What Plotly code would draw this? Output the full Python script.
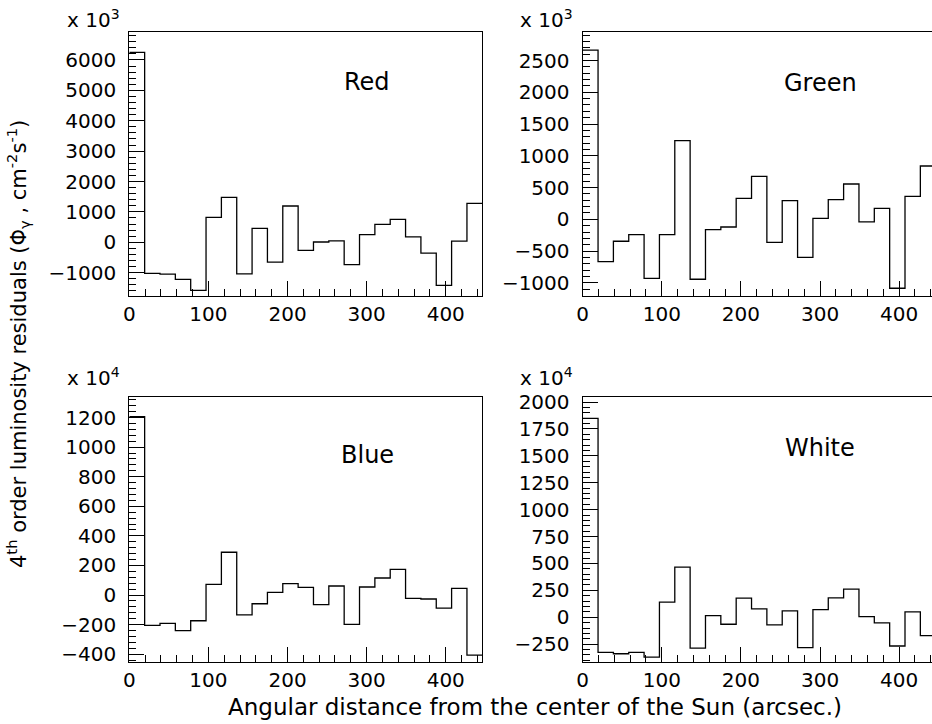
import plotly.graph_objects as go

# ---------------- data ----------------
N_BINS = 23
X_MAX = 446.2            # upper edge of the last bin (arcsec)

red = [6250, -1020, -1050, -1220, -1580, 820, 1480, -1040, 460, -650, 1195, -265,
       10, 45, -735, 250, 590, 755, 180, -355, -1415, 40, 1280]          # x 10^3
green = [2665, -665, -346, -241, -929, -241, 1238, -944, -163, -121, 330, 677,
         -362, 294, -598, 16, 310, 556, -42, 173, -1086, 362, 839]        # x 10^3
blue = [1206, -205, -192, -241, -174, 72, 289, -135, -59, 18, 77, 52,
        -65, 61, -198, 54, 115, 174, -23, -27, -89, 45, -406]             # x 10^4
white = [1848, -326, -339, -326, -370, 140, 466, -286, 16, -65, 177, 78,
         -71, 59, -283, 71, 180, 261, 6, -53, -267, 50, -171]             # x 10^4

panel_names = ["Red", "Green", "Blue", "White"]
panel_values = [red, green, blue, white]
panel_exponents = ["3", "3", "4", "4"]

x_title = "Angular distance from the center of the Sun (arcsec.)"
y_title = "4<sup>th</sup> order luminosity residuals (Φ<sub>γ</sub> , cm<sup>-2</sup>s<sup>-1</sup>)"

# ---------------- layout geometry (pixels) ----------------
W, H = 932, 724
FONT = "DejaVu Sans"

def fx(p):
    return p / W

def fy(p):
    return 1 - p / H

bin_w = X_MAX / N_BINS
edges = [i * bin_w for i in range(N_BINS + 1)]
px_per_unit = (482.3 - 129.3) / X_MAX

panels = [
    dict(x=(129.3, 482.3), y=(31.7, 295.7), yr=[-1757, 6930], dt=1000, mdt=200,
         lbl=(367, 82), exp=(65, 19)),
    dict(x=(582.7, 932.0), y=(31.7, 295.7), yr=[-1203, 2954], dt=500, mdt=100,
         lbl=(820, 83), exp=(518, 19)),
    dict(x=(129.3, 482.3), y=(396.7, 661.7), yr=[-451, 1341], dt=200, mdt=40,
         lbl=(367, 455), exp=(65, 377)),
    dict(x=(582.7, 932.0), y=(396.7, 661.7), yr=[-413, 2050], dt=250, mdt=50,
         lbl=(820, 448), exp=(518, 377)),
]

fig = go.Figure()
annotations = []
layout_axes = {}

for i, (p, vals, name, ex) in enumerate(zip(panels, panel_values, panel_names, panel_exponents)):
    n = "" if i == 0 else str(i + 1)
    xs = edges[:-1] + [edges[-1]]
    ys = list(vals) + [vals[-1]]
    fig.add_trace(go.Scatter(
        x=xs, y=ys, mode="lines", line=dict(shape="hv", color="black", width=1.3),
        xaxis="x" + n, yaxis="y" + n, showlegend=False, hoverinfo="skip"))

    xmax = (p["x"][1] - p["x"][0]) / px_per_unit
    is_right = i % 2 == 1
    layout_axes["xaxis" + n] = dict(
        domain=[fx(p["x"][0]), fx(p["x"][1])], anchor="y" + n, automargin=False,
        range=[0, xmax], showgrid=False, zeroline=False,
        showline=True, linecolor="black", linewidth=1.3, mirror=True,
        ticks="inside", ticklen=15, tickwidth=1.2, tickcolor="black",
        tick0=0, dtick=100,
        minor=dict(dtick=20, tick0=0, ticks="inside", ticklen=7, tickwidth=1.2,
                   tickcolor="black", showgrid=False),
        tickfont=dict(family=FONT, size=20, color="black"),
        ticklabelstandoff=0)
    layout_axes["yaxis" + n] = dict(
        domain=[fy(p["y"][1]), fy(p["y"][0])], anchor="x" + n, automargin=False,
        range=p["yr"], showgrid=False, zeroline=False,
        showline=True, linecolor="black", linewidth=1.3, mirror=not is_right,
        ticks="inside", ticklen=15, tickwidth=1.2, tickcolor="black",
        tick0=0, dtick=p["dt"],
        minor=dict(dtick=p["mdt"], tick0=0, ticks="inside", ticklen=7, tickwidth=1.2,
                   tickcolor="black", showgrid=False),
        tickfont=dict(family=FONT, size=20, color="black"),
        ticklabelstandoff=8)

    annotations.append(dict(
        text=name, x=fx(p["lbl"][0]), y=fy(p["lbl"][1]), xref="paper", yref="paper",
        xanchor="center", yanchor="middle", showarrow=False,
        font=dict(family=FONT, size=24, color="black")))
    annotations.append(dict(
        text="x 10<sup>" + ex + "</sup>", x=fx(p["exp"][0]), y=fy(p["exp"][1]),
        xref="paper", yref="paper", xanchor="left", yanchor="middle", showarrow=False,
        font=dict(family=FONT, size=20, color="black")))

annotations.append(dict(
    text=x_title, x=fx(535), y=fy(707), xref="paper", yref="paper",
    xanchor="center", yanchor="middle", showarrow=False,
    font=dict(family=FONT, size=23, color="black")))
annotations.append(dict(
    text=y_title, x=fx(18), y=fy(344), xref="paper", yref="paper", textangle=-90,
    xanchor="center", yanchor="middle", showarrow=False,
    font=dict(family=FONT, size=21, color="black")))

fig.update_layout(
    template="none",
    width=W, height=H, autosize=False,
    margin=dict(l=0, r=0, t=0, b=0, pad=0),
    paper_bgcolor="white", plot_bgcolor="white",
    annotations=annotations, **layout_axes)

fig.write_html(
    "out.html",
    config={"responsive": False, "displayModeBar": False},
    post_script="document.body.style.margin='0';document.body.style.overflow='hidden';")
